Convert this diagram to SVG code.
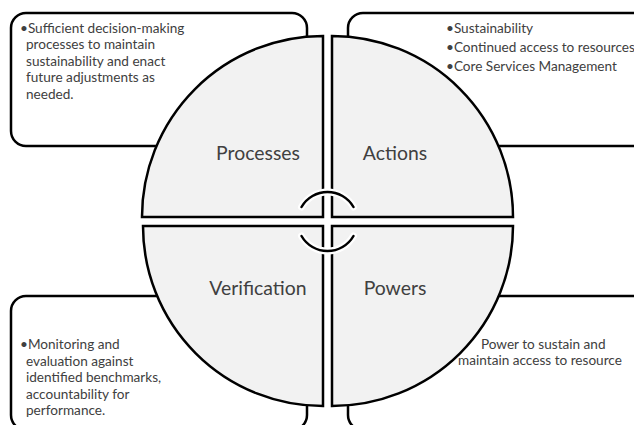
<svg xmlns="http://www.w3.org/2000/svg" width="634" height="425" viewBox="0 0 634 425">
  <style>
    .box { fill: #ffffff; stroke: #000000; stroke-width: 2.5; }
    .quad { fill: #f2f2f2; stroke: #000000; stroke-width: 2.5; stroke-linejoin: miter; }
    .txt { font-family: Lato, "Liberation Sans", sans-serif; font-size: 13.6px; fill: #404040; }
    .lbl { font-family: Lato, "Liberation Sans", sans-serif; font-size: 19.4px; fill: #404040; text-anchor: middle; }
    .halo { fill: none; stroke: #ffffff; stroke-width: 7; stroke-linecap: round; }
    .arc { fill: none; stroke: #000000; stroke-width: 2.5; stroke-linecap: round; }
  </style>
  <rect width="634" height="425" fill="#ffffff"/>

  <g id="box-processes">
    <rect class="box" x="11" y="13" width="296" height="133" rx="15"/>
    <text class="txt">
      <tspan x="20" y="32.5">•Sufficient decision-making</tspan>
      <tspan x="26" y="49">processes to maintain</tspan>
      <tspan x="26" y="65.5">sustainability and enact</tspan>
      <tspan x="26" y="82">future adjustments as</tspan>
      <tspan x="26" y="98.5">needed.</tspan>
    </text>
  </g>

  <g id="box-actions">
    <rect class="box" x="348" y="13" width="320" height="133" rx="15"/>
    <text class="txt">
      <tspan x="446" y="33">•Sustainability</tspan>
      <tspan x="446" y="52">•Continued access to resources</tspan>
      <tspan x="446" y="71">•Core Services Management</tspan>
    </text>
  </g>

  <g id="box-verification">
    <rect class="box" x="11" y="296" width="296" height="134" rx="15"/>
    <text class="txt">
      <tspan x="20" y="349">•Monitoring and</tspan>
      <tspan x="26" y="365.5">evaluation against</tspan>
      <tspan x="26" y="382">identified benchmarks,</tspan>
      <tspan x="26" y="398.5">accountability for</tspan>
      <tspan x="26" y="415">performance.</tspan>
    </text>
  </g>

  <g id="box-powers">
    <rect class="box" x="348" y="296" width="320" height="134" rx="15"/>
    <text class="txt" text-anchor="middle">
      <tspan x="545" y="349">Power to sustain and</tspan>
      <tspan x="540" y="365">maintain access to resource</tspan>
    </text>
  </g>

  <g id="quad-processes">
    <path class="quad" d="M323 217 L142 217 A181 181 0 0 1 323 36 Z"/>
    <text class="lbl" x="258" y="159.5">Processes</text>
  </g>
  <g id="quad-actions">
    <path class="quad" d="M332 217 L332 36 A181 181 0 0 1 513 217 Z"/>
    <text class="lbl" x="395" y="159.5">Actions</text>
  </g>
  <g id="quad-verification">
    <path class="quad" d="M323 226 L323 406 A180 180 0 0 1 143 226 Z"/>
    <text class="lbl" x="258" y="295">Verification</text>
  </g>
  <g id="quad-powers">
    <path class="quad" d="M332 226 L513 226 A181 180 0 0 1 332 406 Z"/>
    <text class="lbl" x="395" y="295">Powers</text>
  </g>

  <g id="connectors">
    <path class="halo" d="M301.5 207 A30 30 0 0 1 353.5 207"/>
    <path class="halo" d="M301.5 236 A30 30 0 0 0 353.5 236"/>
    <path class="arc" d="M301.5 207 A30 30 0 0 1 353.5 207"/>
    <path class="arc" d="M301.5 236 A30 30 0 0 0 353.5 236"/>
  </g>
</svg>
